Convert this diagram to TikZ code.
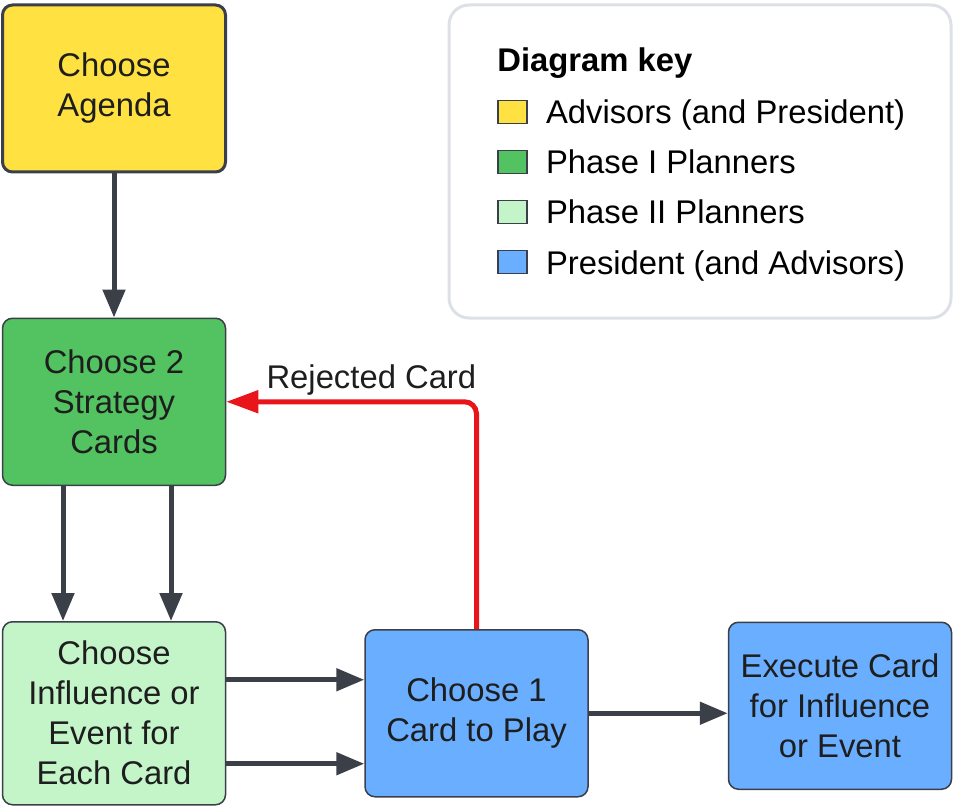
\documentclass[tikz,border=0pt]{standalone}
\usepackage{fontspec}
\setmainfont{Liberation Sans}
\usetikzlibrary{positioning,arrows.meta}
\definecolor{advisor}{HTML}{FFE142}
\definecolor{phaseone}{HTML}{52C360}
\definecolor{phasetwo}{HTML}{C3F5C9}
\definecolor{president}{HTML}{6AAEFF}
\definecolor{edge}{HTML}{3A3F4A}
\definecolor{wire}{HTML}{3B3F48}
\definecolor{rejectred}{HTML}{E8151B}
\definecolor{keyline}{HTML}{DDE0E6}
\definecolor{ink}{HTML}{1E1E1E}

\begin{document}
\begin{tikzpicture}[
	font=\fontsize{16.4}{20}\selectfont,
	box/.style={draw=edge, line width=0.75pt, rounded corners=5pt, minimum width=111.5pt, minimum height=83.5pt, align=center, text=ink, inner sep=0pt},
	flow/.style={draw=wire, line width=2.5pt, -{Triangle[length=14pt,width=11pt]}},
	reject/.style={draw=rejectred, line width=2.5pt, rounded corners=6pt, -{Triangle[length=16pt,width=11pt]}},
	swatch/.style={draw=edge, line width=0.6pt, minimum width=14.5pt, minimum height=11.5pt, inner sep=0pt},
	keytext/.style={inner sep=0pt, anchor=west, text=black, text height=12pt, text depth=0pt}
]
	\useasboundingbox (0,0) rectangle (477pt,-404pt);
	
	\node[box, fill=advisor, line width=1.5pt] (agenda) at (57pt,-44.25pt) {Choose\\Agenda};
	\node[box, fill=phaseone, below=72pt of agenda] (strategy) {Choose 2\\Strategy\\Cards};
	\node[box, fill=phasetwo, minimum height=91.5pt, below=67.5pt of strategy] (influence) {Choose\\Influence or\\Event for\\Each Card};
	\node[box, fill=president, right=69pt of influence] (playcard) {Choose 1\\Card to Play};
	\node[box, fill=president, right=69.5pt of playcard, yshift=3.75pt] (execute) {Execute Card\\for Influence\\or Event};
	
	\node[draw=keyline, line width=1.5pt, rounded corners=10pt, minimum width=251pt, minimum height=156.5pt] (keybox) at (350pt,-80.75pt) {};
	\node[keytext, font=\fontsize{16.4}{20}\selectfont\bfseries] (keytitle) at (248.5pt,-30pt) {Diagram key};
	\node[swatch, fill=advisor] (swadvisor) at (256.25pt,-56pt) {};
	\node[swatch, fill=phaseone, below=12.9pt of swadvisor] (swphaseone) {};
	\node[swatch, fill=phasetwo, below=12.9pt of swphaseone] (swphasetwo) {};
	\node[swatch, fill=president, below=12.9pt of swphasetwo] (swpresident) {};
	\node[keytext, right=9pt of swadvisor] (lbadvisor) {Advisors (and President)};
	\node[keytext, right=9pt of swphaseone] (lbphaseone) {Phase I Planners};
	\node[keytext, right=9pt of swphasetwo] (lbphasetwo) {Phase II Planners};
	\node[keytext, right=9pt of swpresident] (lbpresident) {President (and Advisors)};
	
	\draw[flow] (agenda) -- (strategy);
	\draw[flow] ([xshift=-25.5pt]strategy.south) -- ([xshift=-25.5pt]influence.north);
	\draw[flow] ([xshift=28.5pt]strategy.south) -- ([xshift=28.5pt]influence.north);
	\draw[flow] ([yshift=16.75pt]influence.east) -- ([yshift=16.75pt]playcard.west);
	\draw[flow] ([yshift=-25.25pt]influence.east) -- ([yshift=-25.25pt]playcard.west);
	\draw[flow] (playcard.east) -- (playcard.east -| execute.west);
	\draw[reject] (playcard.north) |- node[pos=0.71, above, text=ink, inner sep=2pt] (rejectlabel) {Rejected Card} (strategy.east);
\end{tikzpicture}
\end{document}
